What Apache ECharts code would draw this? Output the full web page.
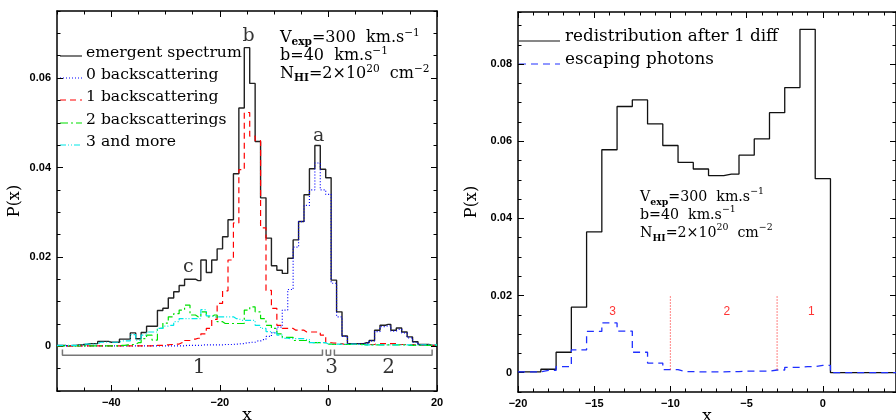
<!DOCTYPE html>
<html><head><meta charset="utf-8">
<script src="https://cdn.jsdelivr.net/npm/echarts@6/dist/echarts.min.js"></script>
<style>html,body{margin:0;padding:0;background:#fff}#c{width:896px;height:420px}</style>
</head><body><div id="c"></div>
<script>
// ---------- Left panel: bin centres and series ----------
const xL = [-50,-49,-48,-47,-46,-45,-44,-43,-42,-41,-40,-39,-38,-37,-36,-35,-34,-33,-32,-31,
  -30,-29,-28,-27,-26,-25,-24,-23,-22,-21,-20,-19,-18,-17,-16,-15,-14,-13,-12,-11,
  -10,-9,-8,-7,-6,-5,-4,-3,-2,-1,0,1,2,3,4,5,6,7,8,9,10,11,12,13,14,15,16,17,18,19,20];
const emergent = [0.0002,0.0002,0.0001,0.0002,0.0003,0.0004,0.0006,0.0006,0.0011,0.0011,
  0.0009,0.0009,0.0016,0.0016,0.0030,0.0017,0.0031,0.0045,0.0045,0.0080,
  0.0085,0.0108,0.0122,0.0136,0.0150,0.0150,0.0147,0.0193,0.0165,0.0193,
  0.0218,0.0245,0.0283,0.0386,0.0533,0.0668,0.0588,0.0458,0.0332,0.0242,
  0.0180,0.0170,0.0163,0.0197,0.0238,0.0279,0.0339,0.0397,0.0449,0.0396,
  0.0377,0.0148,0.0077,0.0023,0.0006,0.0006,0.0006,0.0008,0.0013,0.0036,
  0.0047,0.0049,0.0036,0.0041,0.0032,0.0021,0.0010,0.0004,0.0004,0.0002,0.0002];
const back0 = [0.0001,0.0001,0.0001,0.0001,0.0001,0.0001,0.0001,0.0001,0.0001,0.0001,
  0.0001,0.0001,0.0001,0.0001,0.0001,0.0001,0.0001,0.0001,0.0001,0.0001,
  0.0001,0.0001,0.0001,0.0001,0.0002,0.0002,0.0002,0.0003,0.0003,0.0003,
  0.0003,0.0004,0.0004,0.0005,0.0006,0.0008,0.0009,0.0012,0.0015,0.0022,
  0.0030,0.0043,0.0081,0.0127,0.0222,0.0279,0.0315,0.0350,0.0410,0.0350,
  0.0340,0.0141,0.0066,0.0022,0.0005,0.0005,0.0005,0.0007,0.0012,0.0033,
  0.0044,0.0046,0.0034,0.0038,0.0030,0.0019,0.0009,0.0004,0.0003,0.0002,0.0002];
const back1 = [0.0001,0.0001,0.0001,0.0001,0.0001,0.0001,0.0001,0.0001,0.0001,0.0001,
  0.0001,0.0001,0.0001,0.0001,0.0001,0.0001,0.0001,0.0001,0.0002,0.0002,
  0.0003,0.0004,0.0005,0.0008,0.0013,0.0016,0.0018,0.0028,0.0040,0.0060,
  0.0096,0.0124,0.0193,0.0276,0.0395,0.0523,0.0470,0.0460,0.0265,0.0125,
  0.0085,0.0047,0.0040,0.0040,0.0036,0.0036,0.0032,0.0032,0.0032,0.0025,
  0.0008,0.0007,0.0006,0.0004,0.0004,0.0004,0.0004,0.0004,0.0004,0.0006,
  0.0006,0.0006,0.0006,0.0004,0.0004,0.0004,0.0004,0.0002,0.0002,0.0002,0.0002];
const back2 = [0.0001,0.0001,0.0001,0.0001,0.0001,0.0001,0.0001,0.0001,0.0001,0.0001,
  0.0001,0.0001,0.0002,0.0003,0.0004,0.0008,0.0017,0.0025,0.0014,0.0040,
  0.0052,0.0066,0.0073,0.0081,0.0092,0.0070,0.0066,0.0077,0.0066,0.0070,
  0.0055,0.0051,0.0051,0.0051,0.0051,0.0081,0.0088,0.0077,0.0062,0.0047,
  0.0040,0.0028,0.0020,0.0020,0.0013,0.0013,0.0013,0.0008,0.0008,0.0008,
  0.0005,0.0004,0.0004,0.0004,0.0004,0.0004,0.0004,0.0003,0.0003,0.0003,
  0.0003,0.0003,0.0003,0.0003,0.0003,0.0002,0.0002,0.0002,0.0002,0.0002,0.0002];
const back3 = [0.0002,0.0002,0.0002,0.0002,0.0002,0.0005,0.0005,0.0005,0.0009,0.0009,
  0.0009,0.0009,0.0012,0.0012,0.0026,0.0014,0.0025,0.0032,0.0032,0.0040,
  0.0045,0.0047,0.0055,0.0062,0.0062,0.0062,0.0062,0.0082,0.0068,0.0066,
  0.0066,0.0066,0.0066,0.0062,0.0058,0.0058,0.0058,0.0047,0.0040,0.0033,
  0.0030,0.0025,0.0018,0.0017,0.0017,0.0017,0.0015,0.0008,0.0008,0.0008,
  0.0005,0.0005,0.0005,0.0005,0.0005,0.0005,0.0003,0.0003,0.0003,0.0003,
  0.0003,0.0003,0.0003,0.0003,0.0003,0.0003,0.0003,0.0003,0.0003,0.0003,0.0003];
const legendL = ['emergent spectrum','0 backscattering','1 backscattering','2 backscatterings','3 and more'];
const peakLabels = [['b',-14.7,0.0694],['a',-1.8,0.0470],['c',-25.8,0.0178]];
const brackets = [[-49,-1.1],[-0.4,0.4],[1.1,19.1]];
const bracketLevel = [-0.0007,-0.0020];
const bracketLabels = [['1',-23.8,-0.0049],['3',0.6,-0.0049],['2',11.1,-0.0049]];
const xTicksL = [-40,-20,0,20];
const yTicksL = [0,0.02,0.04,0.06];

// ---------- Right panel ----------
const xR = [-20,-19,-18,-17,-16,-15,-14,-13,-12,-11,-10,-9,-8,-7,-6,-5,-4,-3,-2,-1,0,1,2,3,4,5];
const redis = [0.0002,0.0002,0.0009,0.0053,0.0170,0.0365,0.0578,0.0690,0.0707,0.0645,
  0.0589,0.0545,0.0528,0.0511,0.0515,0.0564,0.0606,0.0674,0.0739,0.0890,
  0.0503,0,0,0,0,0];
const escaping = [0.0002,0.0002,0.0006,0.0016,0.0059,0.0107,0.0129,0.0108,0.0053,0.0025,
  0.0008,0.0003,0.0002,0.0002,0.0003,0.0004,0.0004,0.0007,0.0014,0.0016,
  0.0019,0,0,0,0,0];
const legendR = ['redistribution after 1 diff','escaping photons'];
const dividers = [-10,-3];
const dividerRange = [0.0008,0.02];
const regionLabels = [['3',-13.8,0.0157],['2',-6.3,0.0157],['1',-0.75,0.0157]];
const xTicksR = [-20,-15,-10,-5,0];
const yTicksR = [0,0.02,0.04,0.06,0.08];

// ---------- build ----------
const SERIF = 'DejaVu Serif';
const fmt = v => { if (v === 0) return '0'; return String(+v.toFixed(4)).replace('-', '\u2212'); };
const labelStyle = {color:'#000', fontFamily:'Liberation Sans', fontWeight:'bold', fontSize:11};
const xAxes = [], yAxes = [];
function addAxes(list, grid, pos, min, max, majors, minorInt, labels, nameOpt) {
  list.push(Object.assign({
    type:'value', gridIndex:grid, position:pos, min:min, max:max,
    axisLine:{show:true, onZero:false, lineStyle:{color:'#000', width:1.5}},
    axisTick:{show:true, inside:true, length:6, customValues:majors, lineStyle:{color:'#000', width:1}},
    axisLabel:Object.assign({show:labels, customValues:majors, formatter:fmt, margin:6}, labelStyle),
    splitLine:{show:false}
  }, nameOpt || {}));
  list.push({
    type:'value', gridIndex:grid, position:pos, min:min, max:max, interval:minorInt,
    axisLine:{show:false, onZero:false},
    axisTick:{show:true, inside:true, length:3.5, lineStyle:{color:'#000', width:1}},
    axisLabel:{show:false}, splitLine:{show:false}
  });
}
const xName = {name:'x', nameLocation:'middle', nameGap:16, nameMoveOverlap:false,
  nameTextStyle:{fontFamily:SERIF, fontSize:17, color:'#000'}};
const yName = {name:'P(x)', nameLocation:'middle', nameGap:34, nameMoveOverlap:false,
  nameTextStyle:{fontFamily:SERIF, fontSize:16, color:'#000'}};
addAxes(xAxes, 0, 'bottom', -50, 20, xTicksL, 5, true, xName);
addAxes(xAxes, 0, 'top', -50, 20, xTicksL, 5, false);
addAxes(yAxes, 0, 'left', -0.01, 0.075, yTicksL, 0.005, true, yName);
addAxes(yAxes, 0, 'right', -0.01, 0.075, yTicksL, 0.005, false);
addAxes(xAxes, 1, 'bottom', -20, 4.8, xTicksR, 1, true, xName);
addAxes(xAxes, 1, 'top', -20, 4.8, xTicksR, 1, false);
addAxes(yAxes, 1, 'left', -0.005, 0.0935, yTicksR, 0.005, true, Object.assign({}, yName, {nameGap:38}));
addAxes(yAxes, 1, 'right', -0.005, 0.0935, yTicksR, 0.005, false);

function hist(ax, xs, ys, color, dash, width) {
  return {type:'line', xAxisIndex:ax, yAxisIndex:ax, step:'middle', symbol:'none', silent:true,
    data: xs.map((x, i) => [x, ys[i]]), lineStyle:{color:color, type:dash, width:width}};
}
function textPts(ax, arr, style) {
  return {type:'scatter', xAxisIndex:ax, yAxisIndex:ax, symbolSize:1, silent:true,
    itemStyle:{color:'rgba(0,0,0,0)'},
    data: arr.map(d => ({name:d[0], value:[d[1], d[2]]})),
    label:Object.assign({show:true, position:'inside', formatter:p => p.name}, style)};
}
const styleL = [
  {c:'#222', d:'solid', w:1.4},
  {c:'#0000ff', d:[1,2], w:1.2},
  {c:'#ff0000', d:[6,4], w:1.2},
  {c:'#00e000', d:[8,3,2,3], w:1.2},
  {c:'#00e8e8', d:[6,2,1,2,1,2], w:1.2}
];
const seriesL = [emergent, back0, back1, back2, back3];
const series = [];
seriesL.forEach((ys, i) => series.push(hist(0, xL, ys, styleL[i].c, styleL[i].d, styleL[i].w)));
brackets.forEach(b => series.push({type:'line', xAxisIndex:0, yAxisIndex:0, symbol:'none', silent:true,
  data:[[b[0], bracketLevel[0]],[b[0], bracketLevel[1]],[b[1], bracketLevel[1]],[b[1], bracketLevel[0]]],
  lineStyle:{color:'#777', width:1.5}}));
series.push(textPts(0, peakLabels, {color:'#000', fontFamily:SERIF, fontSize:19}));
series.push(textPts(0, bracketLabels, {color:'#000', fontFamily:SERIF, fontSize:20}));
series.push(hist(4, xR, redis, '#111', 'solid', 1.3));
series.push(hist(4, xR, escaping, '#2030ff', [7,5], 1.3));
dividers.forEach(x => series.push({type:'line', xAxisIndex:4, yAxisIndex:4, symbol:'none', silent:true,
  data:[[x, dividerRange[0]],[x, dividerRange[1]]], lineStyle:{color:'#ff3030', type:[1,2], width:1.2}}));
series.push(textPts(4, regionLabels, {color:'#ff0000', fontFamily:'Liberation Sans', fontSize:12}));

function mkRich(fs) {
  return {
    m:{fontFamily:SERIF, fontSize:fs, lineHeight:20, fill:'#000'},
    s:{fontFamily:SERIF, fontSize:fs*0.66, fontWeight:'bold', lineHeight:4, verticalAlign:'bottom', fill:'#000'},
    p:{fontFamily:SERIF, fontSize:fs*0.66, lineHeight:12, verticalAlign:'top', fill:'#000'}
  };
}
const params = ['{m|V}{s|exp}{m|=300  km.s}{p|\u22121}', '{m|b=40  km.s}{p|\u22121}', '{m|N}{s|HI}{m|=2\u00d710}{p|20}{m|  cm}{p|\u22122}'];
function block(x, y0, dy, fs) {
  return params.map((t, i) => ({type:'text', x:x, y:y0 + i*dy, silent:true,
    style:{text:t, rich:mkRich(fs), fill:'#000', verticalAlign:'middle', align:'left'}}));
}
const graphics = [];
block(280, 38, 18, 16).forEach(g => graphics.push(g));
block(640, 197, 18, 14.2).forEach(g => graphics.push(g));
const legYL = [56, 78, 100, 123, 145];
legendL.forEach((t, i) => {
  graphics.push({type:'line', silent:true, shape:{x1:60, y1:legYL[i], x2:82, y2:legYL[i]},
    style:{stroke:styleL[i].c, lineWidth:1.2, lineDash: Array.isArray(styleL[i].d) ? styleL[i].d : null}});
  graphics.push({type:'text', x:86, y:legYL[i]-3, silent:true,
    style:{text:t, fontFamily:SERIF, fontSize:15.6, fill:'#000', verticalAlign:'middle', align:'left'}});
});
const legYR = [41, 64];
const legSR = [{c:'#111', d:null}, {c:'#2030ff', d:[7,5]}];
legendR.forEach((t, i) => {
  graphics.push({type:'line', silent:true, shape:{x1:519, y1:legYR[i], x2:560, y2:legYR[i]},
    style:{stroke:legSR[i].c, lineWidth:1.2, lineDash:legSR[i].d}});
  graphics.push({type:'text', x:565, y:legYR[i]-4, silent:true,
    style:{text:t, fontFamily:SERIF, fontSize:16.8, fill:'#000', verticalAlign:'middle', align:'left'}});
});

const chart = echarts.init(document.getElementById('c'), null, {renderer:'canvas'});
chart.setOption({
  animation:false,
  backgroundColor:'#fff',
  grid:[{left:57, top:11, width:380, height:380, containLabel:false, outerBoundsMode:'none'},
        {left:518, top:12, width:378, height:380, containLabel:false, outerBoundsMode:'none'}],
  xAxis:xAxes, yAxis:yAxes, series:series, graphic:graphics
});
</script></body></html>
